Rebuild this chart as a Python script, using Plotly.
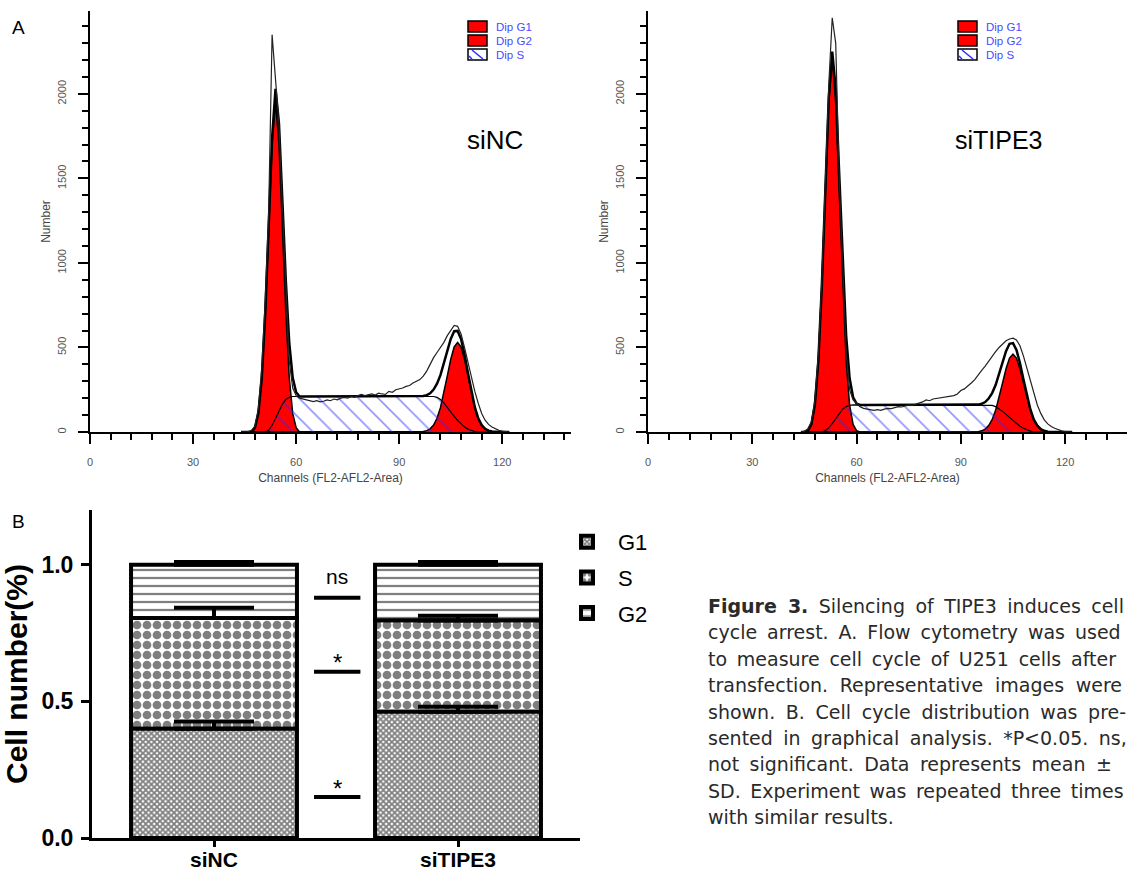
import plotly.graph_objects as go

# ---------------- Panel A data ----------------
channels = list(range(44, 123))

nc_g1 = [0,0,0,0,25,110,320,700,1200,1700,1950,1700,1200,700,320,110,25,0] + [0]*61
nc_s = ([0]*8 + [10,40,80,125,165,192,205] + [210]*42 +
        [205,192,172,148,120,93,68,47,30,17,8,3,0] + [0]*9)
nc_g2 = ([0]*53 + [3,8,19,41,81,144,231,332,430,503,530,503,430,332,231,144,81,41,19,8,3] + [0]*5)
nc_raw = [0,0,2,10,35,140,380,780,1300,2350,2060,1820,1330,820,420,260,215,200,195,190,
          185,180,185,178,182,190,185,195,190,200,205,200,210,205,215,222,215,220,225,218,
          230,225,222,240,235,250,255,260,270,275,290,300,310,330,360,400,440,470,500,530,
          570,600,630,625,580,500,410,320,240,170,110,70,45,30,20,10,5,2,0]

t_g1 = [0,0,8,45,160,420,860,1420,1950,2200,1950,1420,860,420,160,45,8] + [0]*62
t_s = ([0]*7 + [8,25,50,80,110,135,150,158] + [160]*40 +
       [157,150,138,122,104,85,66,49,34,22,12,5,0] + [0]*11)
t_g2 = ([0]*51 + [2,7,17,38,73,128,203,290,374,437,460,437,374,290,203,128,73,38,17,7,2] + [0]*7)
t_raw = [0,5,20,60,190,460,900,1480,2050,2450,2300,1500,930,480,250,190,170,150,140,135,
         130,128,132,128,135,140,138,145,150,148,155,160,158,165,170,178,190,185,195,198,
         200,202,205,210,215,225,245,255,270,290,310,340,365,390,420,450,475,500,520,540,
         550,555,545,510,450,380,300,225,160,110,72,48,32,22,14,7,3,0,0]

nc_peaks = [54, 107]
t_peaks = [53, 106]
hist_legend_names = ["Dip G1", "Dip G2", "Dip S"]

# ---------------- Panel B data ----------------
groups = ["siNC", "siTIPE3"]
g1_frac = [0.400, 0.462]
s_frac = [0.405, 0.334]
g2_frac = [0.195, 0.204]
g1_sd = [0.026, 0.018]
s_sd = [0.037, 0.017]
g2_sd = [0.010, 0.010]
sig_levels = [0.879, 0.608, 0.150]
sig_texts = ["ns", "*", "*"]

caption_lines = [
    ("<b>Figure 3.</b> Silencing of TIPE3 induces cell", 4.4),
    ("cycle arrest. A. Flow cytometry was used", 3.9),
    ("to measure cell cycle of U251 cells after", 3.7),
    ("transfection. Representative images were", 5.6),
    ("shown. B. Cell cycle distribution was pre-", 4.6),
    ("sented in graphical analysis. *P&lt;0.05. ns,", 4.4),
    ("not significant. Data represents mean ±", 4.4),
    ("SD. Experiment was repeated three times", 3.4),
    ("with similar results.", 0.0),
]

W, H = 1127, 873
def px(x): return x / W
def py(y): return 1 - y / H

ARIAL = "Arial, Liberation Sans, sans-serif"
fig = go.Figure()

def add_hist(xa, ya, g1, s, g2, raw, peaks):
    total = [a + b + c for a, b, c in zip(g1, s, g2)]
    fig.add_trace(go.Scatter(x=channels, y=g1, xaxis=xa, yaxis=ya, name="Dip G1",
                             showlegend=False, mode="lines", fill="tozeroy", fillcolor="#ff0000",
                             line=dict(color="black", width=1.5)))
    fig.add_trace(go.Scatter(x=channels, y=g2, xaxis=xa, yaxis=ya, name="Dip G2",
                             showlegend=False, mode="lines", fill="tozeroy", fillcolor="#ff0000",
                             line=dict(color="black", width=1.5)))
    fig.add_trace(go.Scatter(x=channels, y=s, xaxis=xa, yaxis=ya, name="Dip S",
                             showlegend=False, mode="lines", fill="tozeroy",
                             fillcolor="rgba(0,0,0,0)",
                             fillpattern=dict(shape="\\", fgcolor="#2a2aff",
                                              bgcolor="rgba(0,0,0,0)", size=14, solidity=0.12),
                             line=dict(color="black", width=1.2)))
    fig.add_trace(go.Scatter(x=channels, y=total, xaxis=xa, yaxis=ya, mode="lines",
                             showlegend=False, line=dict(color="black", width=2.5)))
    fig.add_trace(go.Scatter(x=channels, y=raw, xaxis=xa, yaxis=ya, mode="lines",
                             showlegend=False, line=dict(color="#222", width=1.2)))
    fig.add_trace(go.Scatter(x=peaks, y=[-45] * len(peaks), xaxis=xa, yaxis=ya, mode="markers",
                             showlegend=False, cliponaxis=False,
                             marker=dict(symbol="triangle-up", size=11, color="black")))

add_hist("x", "y", nc_g1, nc_s, nc_g2, nc_raw, nc_peaks)
add_hist("x2", "y2", t_g1, t_s, t_g2, t_raw, t_peaks)

# hand-drawn legend keys for the two histograms
for bx in (468, 958):
    for i, name in enumerate(hist_legend_names):
        y0 = 21 + 14 * i
        fig.add_shape(type="rect", xref="paper", yref="paper", x0=px(bx), x1=px(bx + 19),
                      y0=py(y0), y1=py(y0 + 11),
                      fillcolor="#ff0000" if i < 2 else "white",
                      line=dict(color="black", width=1.5))
        if i == 2:
            fig.add_shape(type="line", xref="paper", yref="paper", x0=px(bx + 4), x1=px(bx + 15),
                          y0=py(y0 + 1), y1=py(y0 + 10), line=dict(color="#2a2aff", width=1.5))
            fig.add_shape(type="line", xref="paper", yref="paper", x0=px(bx + 1), x1=px(bx + 4),
                          y0=py(y0 + 7), y1=py(y0 + 10), line=dict(color="#2a2aff", width=1.5))
        fig.add_annotation(xref="paper", yref="paper", x=px(bx + 26), y=py(y0 + 5.5),
                           xanchor="left", yanchor="middle", text=name, showarrow=False,
                           font=dict(family=ARIAL, size=11.5, color="#4a4aff"))

# Bars (explicit bases so error bars of lower segments stay visible)
base_s = [a for a in g1_frac]
base_g2 = [a + b for a, b in zip(g1_frac, s_frac)]
bar_specs = [
    ("G2", 3, g2_frac, base_g2, g2_sd, dict(shape="-", size=8, solidity=0.28)),
    ("S", 2, s_frac, base_s, s_sd, dict(shape=".", size=10, solidity=0.6)),
    ("G1", 1, g1_frac, [0, 0], g1_sd, dict(shape="x", size=4, solidity=0.7)),
]
for name, rank, vals, base, sd, pat in bar_specs:
    fig.add_trace(go.Bar(x=groups, y=vals, base=base, name=name, xaxis="x3", yaxis="y3",
                         legend="legend3", legendgroup=name, legendrank=rank, width=0.68,
                         marker=dict(color="white", line=dict(color="black", width=4),
                                     pattern=dict(fgcolor="black", bgcolor="white", **pat)),
                         error_y=dict(type="data", symmetric=False, array=sd, arrayminus=[0, 0],
                                      color="black", thickness=4, width=40)))

tickfont_h = dict(family=ARIAL, size=11, color="#555")

def hist_xaxis(domain, rng, anchor):
    return dict(domain=domain, range=rng, anchor=anchor, automargin=False, showline=True,
                linecolor="black", linewidth=2, ticks="outside", ticklen=10, tickwidth=2,
                tickcolor="black", tick0=0, dtick=30, tickfont=tickfont_h, showgrid=False,
                zeroline=False, ticklabelstandoff=9,
                minor=dict(dtick=6, ticks="outside", ticklen=6, tickwidth=2, tickcolor="black"),
                title=dict(text="Channels (FL2-AFL2-Area)",
                           font=dict(family=ARIAL, size=12, color="#444"), standoff=6))

def hist_yaxis(domain, anchor):
    return dict(domain=domain, range=[0, 2490], anchor=anchor, automargin=False, showline=True,
                linecolor="black", linewidth=2, ticks="outside", ticklen=10, tickwidth=2,
                tickcolor="black", tick0=0, dtick=500, tickangle=-90, tickfont=tickfont_h,
                showgrid=False, zeroline=False, ticklabelstandoff=8,
                minor=dict(dtick=100, ticks="outside", ticklen=6, tickwidth=2, tickcolor="black"),
                title=dict(text="Number", font=dict(family=ARIAL, size=12, color="#444"),
                           standoff=2))

ydom_h = [py(432), py(11)]
bold = dict(family=ARIAL, color="black", weight="bold")
fig.update_layout(
    width=W, height=H, margin=dict(l=0, r=0, t=0, b=0, autoexpand=False),
    paper_bgcolor="white", plot_bgcolor="white", barmode="overlay",
    showlegend=True,
    xaxis=hist_xaxis([px(90), px(571)], [0, 140], "y"),
    yaxis=hist_yaxis(ydom_h, "x"),
    xaxis2=hist_xaxis([px(648), 1.0], [0, 137.8], "y2"),
    yaxis2=hist_yaxis(ydom_h, "x2"),
    xaxis3=dict(domain=[px(92), px(580)], range=[-0.5, 1.5], anchor="y3", type="category",
                automargin=False, showline=True, linecolor="black", linewidth=3,
                ticks="outside", ticklen=6, tickwidth=3, tickcolor="black", showgrid=False,
                ticklabelstandoff=-5, tickfont=dict(size=21, **bold)),
    yaxis3=dict(domain=[py(838), py(510)], range=[0, 1.2], anchor="x3", automargin=False,
                showline=True, linecolor="black", linewidth=3, ticks="outside", ticklen=8,
                tickwidth=3, tickcolor="black", tickvals=[0, 0.5, 1.0],
                ticktext=["0.0", "0.5", "1.0"], showgrid=False, zeroline=False,
                ticklabelstandoff=3, tickfont=dict(size=23, **bold),
                title=dict(text="Cell number(%)", standoff=20, font=dict(size=30, **bold))),
    legend3=dict(x=px(556), y=py(521), xanchor="left", yanchor="top", bgcolor="rgba(0,0,0,0)",
                 font=dict(family=ARIAL, size=22, color="black"), traceorder="grouped",
                 tracegroupgap=4, itemwidth=52),
)

# significance marks
for lvl, txt in zip(sig_levels, sig_texts):
    fig.add_shape(type="line", xref="x3", yref="y3", x0=0.41, x1=0.60, y0=lvl, y1=lvl,
                  line=dict(color="black", width=4))
    fig.add_annotation(xref="x3", yref="y3", x=0.505, y=lvl, yshift=21 if txt == "ns" else 9,
                       text=txt, showarrow=False, yanchor="middle",
                       font=dict(family=ARIAL, size=21 if txt == "ns" else 24, color="black"))

# text labels
for x, y, txt, size in [(495, 140, "siNC", 26), (999, 140, "siTIPE3", 25),
                        (18, 27, "A", 19), (18, 521, "B", 19)]:
    fig.add_annotation(xref="paper", yref="paper", x=px(x), y=py(y), text=txt,
                       xanchor="center", yanchor="middle", showarrow=False,
                       font=dict(family=ARIAL, size=size, color="black"))

for i, (line, ws) in enumerate(caption_lines):
    fig.add_annotation(xref="paper", yref="paper", x=px(706), y=py(606 + 26.4 * i),
                       xanchor="left", yanchor="middle", align="left", showarrow=False,
                       text=f'<span style="word-spacing:{ws}px">{line}</span>',
                       font=dict(family="DejaVu Sans", size=19, color="#2a2a2a"))

fig.write_html("out.html", config={"displayModeBar": False})

# remove the browser's default page margin so the figure sits at (0, 0)
with open("out.html", "r", encoding="utf-8") as f:
    html = f.read()
html = html.replace("<head>", "<head><style>html,body{margin:0;padding:0;overflow:hidden}</style>", 1)
with open("out.html", "w", encoding="utf-8") as f:
    f.write(html)
